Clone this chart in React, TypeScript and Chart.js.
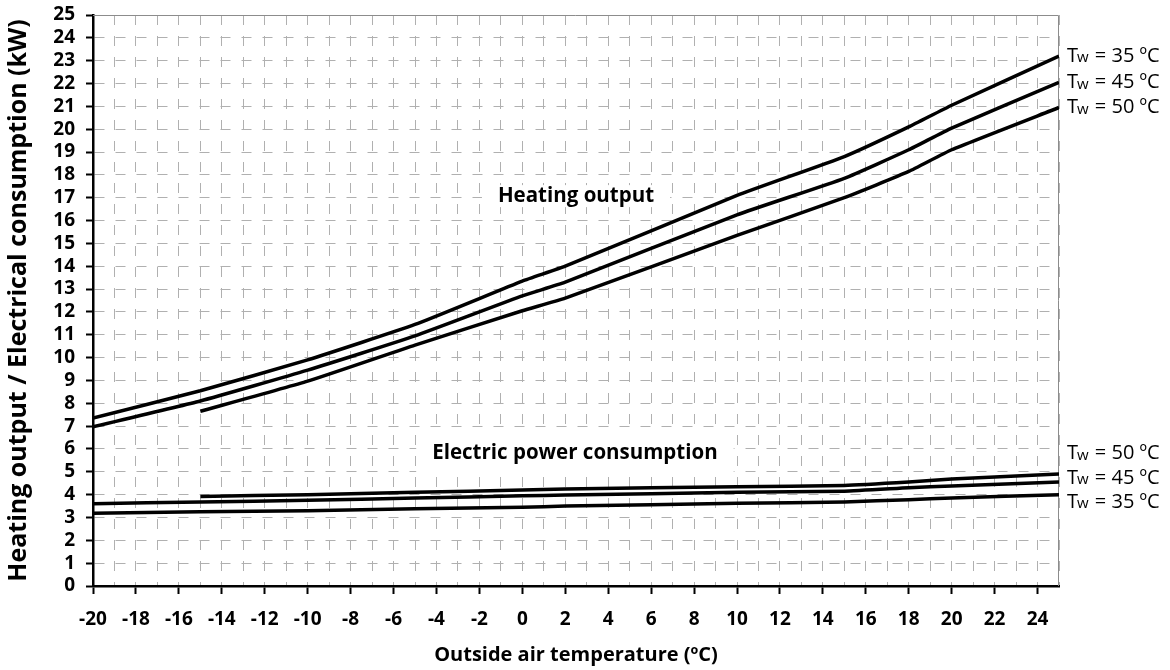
import React, { useEffect, useRef } from "react";
import { Chart, registerables } from "chart.js";

Chart.register(...registerables);

// ---- Data ----
const heatTemps = [-20, -15, -10, -5, 0, 2, 10, 15, 18, 20, 25];
const heat35 = [7.35, 8.55, 9.9, 11.45, 13.35, 14.0, 17.1, 18.8, 20.1, 21.05, 23.2];
const heat45 = [6.97, 8.1, 9.45, 10.95, 12.7, 13.3, 16.25, 17.85, 19.1, 20.05, 22.05];
const heatTemps50 = [-15, -10, -5, 0, 2, 10, 15, 18, 20, 25];
const heat50 = [7.65, 8.97, 10.55, 12.05, 12.6, 15.35, 17.0, 18.15, 19.1, 20.95];

const elecTemps = [-20, -15, -10, -5, 0, 2, 10, 15, 18, 20, 25];
const elec35 = [3.18, 3.25, 3.3, 3.38, 3.45, 3.5, 3.62, 3.68, 3.78, 3.85, 4.0];
const elec45 = [3.6, 3.68, 3.75, 3.85, 3.95, 3.98, 4.1, 4.15, 4.3, 4.38, 4.55];
const elecTemps50 = [-15, -10, -5, 0, 2, 10, 15, 18, 20, 25];
const elec50 = [3.92, 4.0, 4.1, 4.2, 4.25, 4.35, 4.4, 4.55, 4.68, 4.9];

const heatLabels = ["Tw = 35 ºC", "Tw = 45 ºC", "Tw = 50 ºC"];
const elecLabels = ["Tw = 50 ºC", "Tw = 45 ºC", "Tw = 35 ºC"];

const xTitle = "Outside air temperature (ºC)";
const yTitle = "Heating output / Electrical consumption (kW)";
const heatCaption = "Heating output";
const elecCaption = "Electric power consumption";

const FONT = "'Open Sans', 'DejaVu Sans', sans-serif";

const toPts = (xs: number[], ys: number[]) => xs.map((x, i) => ({ x, y: ys[i] }));

const lineDs = (data: { x: number; y: number }[]) => ({
  data,
  borderColor: "#000",
  borderWidth: 3.5,
  pointRadius: 0,
  fill: false,
  tension: 0.15,
});

const drawTw = (ctx: CanvasRenderingContext2D, label: string, x: number, y: number) => {
  ctx.textBaseline = "middle";
  ctx.textAlign = "left";
  ctx.fillStyle = "#000";
  ctx.font = `400 20px ${FONT}`;
  ctx.fillText("T", x, y);
  let cx = x + ctx.measureText("T").width - 1;
  ctx.font = `400 15px ${FONT}`;
  ctx.fillText("w", cx, y + 2);
  cx += ctx.measureText("w").width + 1;
  ctx.font = `400 20px ${FONT}`;
  ctx.fillText(label.slice(2), cx, y);
};

const annotPlugin = {
  id: "annot",
  beforeDatasetsDraw(chart: any) {
    const { ctx, chartArea, scales } = chart;
    const xs = scales.x;
    const ys = scales.y;
    ctx.save();
    ctx.strokeStyle = "#8c8c8c";
    ctx.lineWidth = 1;
    ctx.setLineDash([]);
    ctx.beginPath();
    ctx.moveTo(chartArea.left, chartArea.top + 0.5);
    ctx.lineTo(chartArea.right - 0.5, chartArea.top + 0.5);
    ctx.lineTo(chartArea.right - 0.5, chartArea.bottom);
    ctx.stroke();

    const captions = [
      { text: heatCaption, x: 2.5, y: 17.07, padX: 16, padY: 11 },
      { text: elecCaption, x: 2.45, y: 5.8, padX: 16, padY: 21 },
    ];
    ctx.font = `700 20.5px ${FONT}`;
    ctx.textAlign = "center";
    ctx.textBaseline = "middle";
    for (const c of captions) {
      const px = xs.getPixelForValue(c.x);
      const py = ys.getPixelForValue(c.y);
      const w = ctx.measureText(c.text).width;
      ctx.fillStyle = "#fff";
      ctx.fillRect(px - w / 2 - c.padX, py - c.padY, w + 2 * c.padX, 2 * c.padY);
      ctx.fillStyle = "#000";
      ctx.fillText(c.text, px, py);
    }
    ctx.restore();
  },
  afterDraw(chart: any) {
    const { ctx, chartArea, scales } = chart;
    const ys = scales.y;
    ctx.save();
    const lx = chartArea.right + 8;
    const heatY = [heat35[heat35.length - 1], heat45[heat45.length - 1], heat50[heat50.length - 1]];
    heatLabels.forEach((l, i) => drawTw(ctx, l, lx, ys.getPixelForValue(heatY[i])));
    const elecY = [5.8, 4.72, 3.67];
    elecLabels.forEach((l, i) => drawTw(ctx, l, lx, ys.getPixelForValue(elecY[i])));
    ctx.restore();
  },
};

export default function App() {
  const ref = useRef<HTMLCanvasElement | null>(null);
  useEffect(() => {
    document.body.style.margin = "0";
    if (!ref.current) return;
    const chart = new Chart(ref.current, {
      type: "line",
      data: {
        datasets: [
          lineDs(toPts(heatTemps, heat35)),
          lineDs(toPts(heatTemps, heat45)),
          lineDs(toPts(heatTemps50, heat50)),
          lineDs(toPts(elecTemps, elec35)),
          lineDs(toPts(elecTemps, elec45)),
          lineDs(toPts(elecTemps50, elec50)),
        ],
      },
      options: {
        animation: false,
        responsive: false,
        maintainAspectRatio: false,
        layout: { padding: { left: 0, right: 111, top: 15, bottom: 0 } },
        plugins: { legend: { display: false }, tooltip: { enabled: false } },
        scales: {
          x: {
            type: "linear",
            min: -20,
            max: 25,
            afterFit: (s: any) => {
              s.height = 84;
              s.paddingLeft = 0;
              s.paddingRight = 0;
            },
            ticks: {
              stepSize: 1,
              autoSkip: false,
              maxRotation: 0,
              padding: 14,
              color: "#000",
              font: { family: FONT, size: 19, weight: "bold" },
              callback: (v: any) => (Number(v) % 2 === 0 ? String(v) : ""),
            },
            grid: {
              color: "#b0b0b0",
              lineWidth: 1,
              drawTicks: true,
              tickLength: 8,
              tickWidth: 2,
              tickColor: (c: any) =>
                c.tick && Math.abs(c.tick.value) % 2 === 0 ? "#000" : "rgba(0,0,0,0)",
            },
            border: { display: true, color: "#000", width: 2.5, dash: [10, 11] },
            title: {
              display: true,
              text: xTitle,
              color: "#000",
              font: { family: FONT, size: 20, weight: "700" },
              padding: { top: 4, bottom: 3 },
            },
          },
          y: {
            type: "linear",
            min: 0,
            max: 25,
            afterFit: (s: any) => {
              s.width = 93;
              s.paddingTop = 0;
              s.paddingBottom = 0;
            },
            ticks: {
              stepSize: 1,
              autoSkip: false,
              padding: 11,
              color: "#000",
              font: { family: FONT, size: 19, weight: "bold" },
            },
            grid: {
              color: "#b0b0b0",
              lineWidth: 1,
              drawTicks: true,
              tickLength: 7,
              tickWidth: 2,
              tickColor: "#000",
            },
            border: { display: true, color: "#000", width: 2.5, dash: [10, 11] },
            title: {
              display: true,
              text: yTitle,
              color: "#000",
              font: { family: FONT, size: 25, weight: "700" },
              padding: { top: 4, bottom: 2 },
            },
          },
        },
      },
      plugins: [annotPlugin],
    } as any);
    return () => chart.destroy();
  }, []);
  return (
    <div style={{ position: "fixed", left: 0, top: 0, width: 1170, height: 670, background: "#fff" }}>
      <canvas ref={ref} width={1170} height={670} style={{ display: "block" }} />
    </div>
  );
}
